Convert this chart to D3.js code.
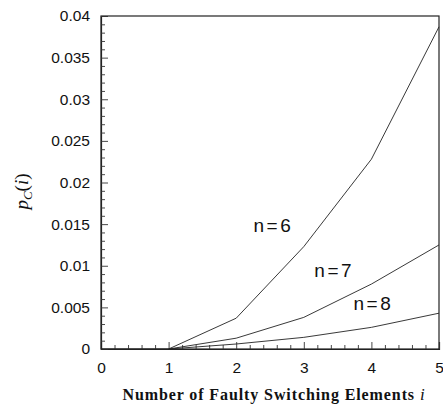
<!DOCTYPE html>
<html>
<head>
<meta charset="utf-8">
<script src="https://cdn.jsdelivr.net/npm/d3@7"></script>
<style>
  body { margin: 0; background: #fff; }
  svg { display: block; }
</style>
</head>
<body>
<svg id="chart" width="443" height="404"></svg>
<script>
// ---- data ----
const xValues = [1, 2, 3, 4, 5];
const seriesNames = ["n=6", "n=7", "n=8"];
const n6 = [0, 0.0037, 0.0123, 0.0228, 0.0387];
const n7 = [0, 0.0013, 0.0038, 0.0078, 0.0125];
const n8 = [0, 0.0006, 0.0014, 0.0026, 0.0043];
const xTicks = [0, 1, 2, 3, 4, 5];
const yTicks = [0, 0.005, 0.01, 0.015, 0.02, 0.025, 0.03, 0.035, 0.04];
const yTickLabels = ["0", "0.005", "0.01", "0.015", "0.02", "0.025", "0.03", "0.035", "0.04"];
// label anchor positions in data units
const labelPos = [[2.55, 0.0140], [3.45, 0.0087], [4.03, 0.0047]];

const W = 443, H = 404;
const margin = { left: 101, right: 4, top: 16, bottom: 55 };
const svg = d3.select("#chart");

const x = d3.scaleLinear().domain([0, 5]).range([margin.left, W - margin.right]);
const y = d3.scaleLinear().domain([0, 0.04]).range([H - margin.bottom, margin.top]);

const sans = "'Liberation Sans', Arial, Helvetica, sans-serif";
const serif = "'Liberation Serif', 'Times New Roman', serif";

// frame
svg.append("rect")
  .attr("x", x(0)).attr("y", y(0.04))
  .attr("width", x(5) - x(0)).attr("height", y(0) - y(0.04))
  .attr("fill", "none").attr("stroke", "#222").attr("stroke-width", 1.2);

// x axis: major ticks inward
const xAxis = d3.axisBottom(x).tickValues(xTicks).tickSize(-7).tickPadding(13)
  .tickFormat(d3.format("d"));
svg.append("g").attr("transform", `translate(0,${y(0)})`).call(xAxis);
const xMinor = d3.range(0, 5.001, 0.2).filter(v => Math.abs(v - Math.round(v)) > 1e-6);
svg.append("g").attr("transform", `translate(0,${y(0)})`)
  .call(d3.axisBottom(x).tickValues(xMinor).tickSize(-4).tickFormat(""))
  .call(g => g.select(".domain").remove());

// y axis
const yAxis = d3.axisLeft(y).tickValues(yTicks).tickSize(-7).tickPadding(11)
  .tickFormat((d, i) => yTickLabels[i]);
svg.append("g").attr("transform", `translate(${x(0)},0)`).call(yAxis);
const yMinor = d3.range(0, 0.04001, 0.001).filter(v => Math.abs(v / 0.005 - Math.round(v / 0.005)) > 1e-6);
svg.append("g").attr("transform", `translate(${x(0)},0)`)
  .call(d3.axisLeft(y).tickValues(yMinor).tickSize(-4).tickFormat(""))
  .call(g => g.select(".domain").remove());

svg.selectAll(".domain").attr("stroke", "#222").attr("stroke-width", 1.2);
svg.selectAll(".tick line").attr("stroke", "#333").attr("stroke-width", 0.9);
svg.selectAll(".tick text").attr("font-family", sans).attr("font-size", 15.5).attr("fill", "#111");

// lines
const series = [n6, n7, n8];
const line = d3.line().x((d, i) => x(xValues[i])).y(d => y(d));
svg.append("g").selectAll("path").data(series).join("path")
  .attr("d", d => line(d))
  .attr("fill", "none").attr("stroke", "#222").attr("stroke-width", 0.9);
// flat part before i=1
svg.append("line").attr("x1", x(0)).attr("x2", x(1)).attr("y1", y(0)).attr("y2", y(0))
  .attr("stroke", "#222").attr("stroke-width", 1.2);

// curve labels
svg.append("g").selectAll("text").data(seriesNames).join("text")
  .attr("x", (d, i) => x(labelPos[i][0]))
  .attr("y", (d, i) => y(labelPos[i][1]))
  .attr("text-anchor", "middle")
  .attr("font-family", sans).attr("font-size", 19).attr("letter-spacing", 2.5)
  .attr("fill", "#111")
  .text(d => d);

// x title
const xt = svg.append("text")
  .attr("x", 274).attr("y", 400).attr("text-anchor", "middle")
  .attr("font-family", serif).attr("font-size", 16).attr("font-weight", "bold")
  .attr("letter-spacing", 0.9).attr("fill", "#111");
xt.append("tspan").text("Number of Faulty Switching Elements ");
xt.append("tspan").attr("font-style", "italic").attr("font-weight", "normal").attr("font-size", 17).text("i");

// y title
const yt = svg.append("text")
  .attr("transform", `translate(28,${(y(0) + y(0.04)) / 2 + 9}) rotate(-90)`)
  .attr("text-anchor", "middle")
  .attr("font-family", serif).attr("font-size", 19).attr("font-style", "italic").attr("fill", "#111");
yt.append("tspan").text("p");
yt.append("tspan").attr("font-size", 13).attr("dy", 4).text("C");
yt.append("tspan").attr("dy", -4).attr("font-style", "normal").text("(");
yt.append("tspan").text("i");
yt.append("tspan").attr("font-style", "normal").text(")");
</script>
</body>
</html>
